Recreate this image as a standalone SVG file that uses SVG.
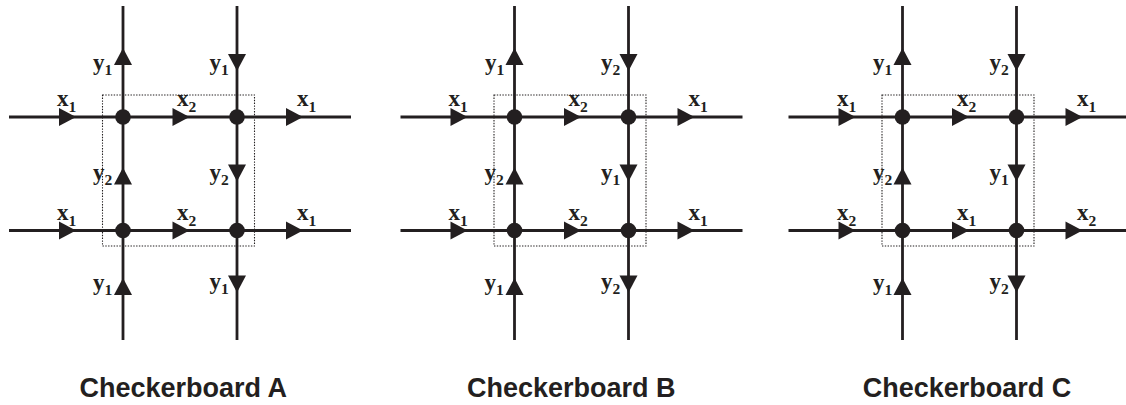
<svg xmlns="http://www.w3.org/2000/svg" width="1126" height="405" viewBox="0 0 1126 405">
<defs>
<path id="ah" d="M0,0 L-17,-9 L-17,9 Z" fill="#231f20"/>
</defs>
<style>
.ln{stroke:#231f20;stroke-width:2.8;fill:none;stroke-linecap:butt}
.box{stroke:#231f20;stroke-width:1.1;fill:none;stroke-dasharray:1.4 1.4}
.dot{fill:#231f20}
.lb{font-family:"Liberation Serif","Times New Roman",serif;font-weight:bold;font-size:23px;fill:#231f20}
.sb{font-size:15.5px}
.tt{font-family:"Liberation Sans",Arial,Helvetica,sans-serif;font-weight:bold;font-size:27px;fill:#231f20;text-anchor:middle}
</style>
<rect width="1126" height="405" fill="#ffffff"/>

<!-- Panel A -->
<g id="panelA">
<rect class="box" x="102.5" y="95" width="152" height="151"/>
<g id="connectorsA">
<line class="ln" x1="123" y1="6" x2="123" y2="340"/>
<line class="ln" x1="237" y1="6" x2="237" y2="340"/>
<line class="ln" x1="9" y1="117" x2="351" y2="117"/>
<line class="ln" x1="9" y1="230.5" x2="351" y2="230.5"/>
<use href="#ah" transform="translate(76,117)"/>
<use href="#ah" transform="translate(189.5,117)"/>
<use href="#ah" transform="translate(303,117)"/>
<use href="#ah" transform="translate(76,230.5)"/>
<use href="#ah" transform="translate(189.5,230.5)"/>
<use href="#ah" transform="translate(303,230.5)"/>
<use href="#ah" transform="translate(123,48) rotate(-90)"/>
<use href="#ah" transform="translate(123,167.5) rotate(-90)"/>
<use href="#ah" transform="translate(123,278) rotate(-90)"/>
<use href="#ah" transform="translate(237,71) rotate(90)"/>
<use href="#ah" transform="translate(237,181.5) rotate(90)"/>
<use href="#ah" transform="translate(237,292.5) rotate(90)"/>
</g>
<g id="A-n11"><circle class="dot" cx="123" cy="117" r="7.8"/></g>
<g id="A-n12"><circle class="dot" cx="237" cy="117" r="7.8"/></g>
<g id="A-n21"><circle class="dot" cx="123" cy="230.5" r="7.8"/></g>
<g id="A-n22"><circle class="dot" cx="237" cy="230.5" r="7.8"/></g>
<g id="labelsA">
<text class="lb" x="57" y="106">x<tspan class="sb" dy="6">1</tspan></text>
<text class="lb" x="177" y="106">x<tspan class="sb" dy="6">2</tspan></text>
<text class="lb" x="297" y="106">x<tspan class="sb" dy="6">1</tspan></text>
<text class="lb" x="57" y="219.5">x<tspan class="sb" dy="6">1</tspan></text>
<text class="lb" x="177" y="219.5">x<tspan class="sb" dy="6">2</tspan></text>
<text class="lb" x="297" y="219.5">x<tspan class="sb" dy="6">1</tspan></text>
<text class="lb" x="93" y="70">y<tspan class="sb" dy="5">1</tspan></text>
<text class="lb" x="93" y="180">y<tspan class="sb" dy="5">2</tspan></text>
<text class="lb" x="93" y="290">y<tspan class="sb" dy="5">1</tspan></text>
<text class="lb" x="209.5" y="70">y<tspan class="sb" dy="5">1</tspan></text>
<text class="lb" x="209.5" y="180">y<tspan class="sb" dy="5">2</tspan></text>
<text class="lb" x="209.5" y="288.5">y<tspan class="sb" dy="5">1</tspan></text>
</g>
</g>

<!-- Panel B -->
<g id="panelB" transform="translate(391.5,0)">
<rect class="box" x="102.5" y="95" width="152" height="151"/>
<g id="connectorsB">
<line class="ln" x1="123" y1="6" x2="123" y2="340"/>
<line class="ln" x1="237" y1="6" x2="237" y2="340"/>
<line class="ln" x1="9" y1="117" x2="351" y2="117"/>
<line class="ln" x1="9" y1="230.5" x2="351" y2="230.5"/>
<use href="#ah" transform="translate(76,117)"/>
<use href="#ah" transform="translate(189.5,117)"/>
<use href="#ah" transform="translate(303,117)"/>
<use href="#ah" transform="translate(76,230.5)"/>
<use href="#ah" transform="translate(189.5,230.5)"/>
<use href="#ah" transform="translate(303,230.5)"/>
<use href="#ah" transform="translate(123,48) rotate(-90)"/>
<use href="#ah" transform="translate(123,167.5) rotate(-90)"/>
<use href="#ah" transform="translate(123,278) rotate(-90)"/>
<use href="#ah" transform="translate(237,71) rotate(90)"/>
<use href="#ah" transform="translate(237,181.5) rotate(90)"/>
<use href="#ah" transform="translate(237,292.5) rotate(90)"/>
</g>
<g id="B-n11"><circle class="dot" cx="123" cy="117" r="7.8"/></g>
<g id="B-n12"><circle class="dot" cx="237" cy="117" r="7.8"/></g>
<g id="B-n21"><circle class="dot" cx="123" cy="230.5" r="7.8"/></g>
<g id="B-n22"><circle class="dot" cx="237" cy="230.5" r="7.8"/></g>
<g id="labelsB">
<text class="lb" x="57" y="106">x<tspan class="sb" dy="6">1</tspan></text>
<text class="lb" x="177" y="106">x<tspan class="sb" dy="6">2</tspan></text>
<text class="lb" x="297" y="106">x<tspan class="sb" dy="6">1</tspan></text>
<text class="lb" x="57" y="219.5">x<tspan class="sb" dy="6">1</tspan></text>
<text class="lb" x="177" y="219.5">x<tspan class="sb" dy="6">2</tspan></text>
<text class="lb" x="297" y="219.5">x<tspan class="sb" dy="6">1</tspan></text>
<text class="lb" x="93.5" y="70">y<tspan class="sb" dy="5">1</tspan></text>
<text class="lb" x="93" y="180">y<tspan class="sb" dy="5">2</tspan></text>
<text class="lb" x="93" y="290">y<tspan class="sb" dy="5">1</tspan></text>
<text class="lb" x="209.5" y="70">y<tspan class="sb" dy="5">2</tspan></text>
<text class="lb" x="209.5" y="180">y<tspan class="sb" dy="5">1</tspan></text>
<text class="lb" x="209.5" y="288.5">y<tspan class="sb" dy="5">2</tspan></text>
</g>
</g>

<!-- Panel C -->
<g id="panelC" transform="translate(779.5,0)">
<rect class="box" x="102.5" y="95" width="152" height="151"/>
<g id="connectorsC">
<line class="ln" x1="123" y1="6" x2="123" y2="340"/>
<line class="ln" x1="237" y1="6" x2="237" y2="340"/>
<line class="ln" x1="9" y1="117" x2="351" y2="117"/>
<line class="ln" x1="9" y1="230.5" x2="351" y2="230.5"/>
<use href="#ah" transform="translate(76,117)"/>
<use href="#ah" transform="translate(189.5,117)"/>
<use href="#ah" transform="translate(303,117)"/>
<use href="#ah" transform="translate(76,230.5)"/>
<use href="#ah" transform="translate(189.5,230.5)"/>
<use href="#ah" transform="translate(303,230.5)"/>
<use href="#ah" transform="translate(123,48) rotate(-90)"/>
<use href="#ah" transform="translate(123,167.5) rotate(-90)"/>
<use href="#ah" transform="translate(123,278) rotate(-90)"/>
<use href="#ah" transform="translate(237,71) rotate(90)"/>
<use href="#ah" transform="translate(237,181.5) rotate(90)"/>
<use href="#ah" transform="translate(237,292.5) rotate(90)"/>
</g>
<g id="C-n11"><circle class="dot" cx="123" cy="117" r="7.8"/></g>
<g id="C-n12"><circle class="dot" cx="237" cy="117" r="7.8"/></g>
<g id="C-n21"><circle class="dot" cx="123" cy="230.5" r="7.8"/></g>
<g id="C-n22"><circle class="dot" cx="237" cy="230.5" r="7.8"/></g>
<g id="labelsC">
<text class="lb" x="57.5" y="106">x<tspan class="sb" dy="6">1</tspan></text>
<text class="lb" x="177.5" y="106">x<tspan class="sb" dy="6">2</tspan></text>
<text class="lb" x="297.5" y="106">x<tspan class="sb" dy="6">1</tspan></text>
<text class="lb" x="57.5" y="219.5">x<tspan class="sb" dy="6">2</tspan></text>
<text class="lb" x="177.5" y="219.5">x<tspan class="sb" dy="6">1</tspan></text>
<text class="lb" x="297.5" y="219.5">x<tspan class="sb" dy="6">2</tspan></text>
<text class="lb" x="93.5" y="70">y<tspan class="sb" dy="5">1</tspan></text>
<text class="lb" x="93.5" y="180">y<tspan class="sb" dy="5">2</tspan></text>
<text class="lb" x="93.5" y="290">y<tspan class="sb" dy="5">1</tspan></text>
<text class="lb" x="210" y="70">y<tspan class="sb" dy="5">2</tspan></text>
<text class="lb" x="210" y="180">y<tspan class="sb" dy="5">1</tspan></text>
<text class="lb" x="210" y="288.5">y<tspan class="sb" dy="5">2</tspan></text>
</g>
</g>

<g id="titles">
<text class="tt" x="183.3" y="396.5">Checkerboard A</text>
<text class="tt" x="571.3" y="396.5">Checkerboard B</text>
<text class="tt" x="967" y="396.5">Checkerboard C</text>
</g>
</svg>
